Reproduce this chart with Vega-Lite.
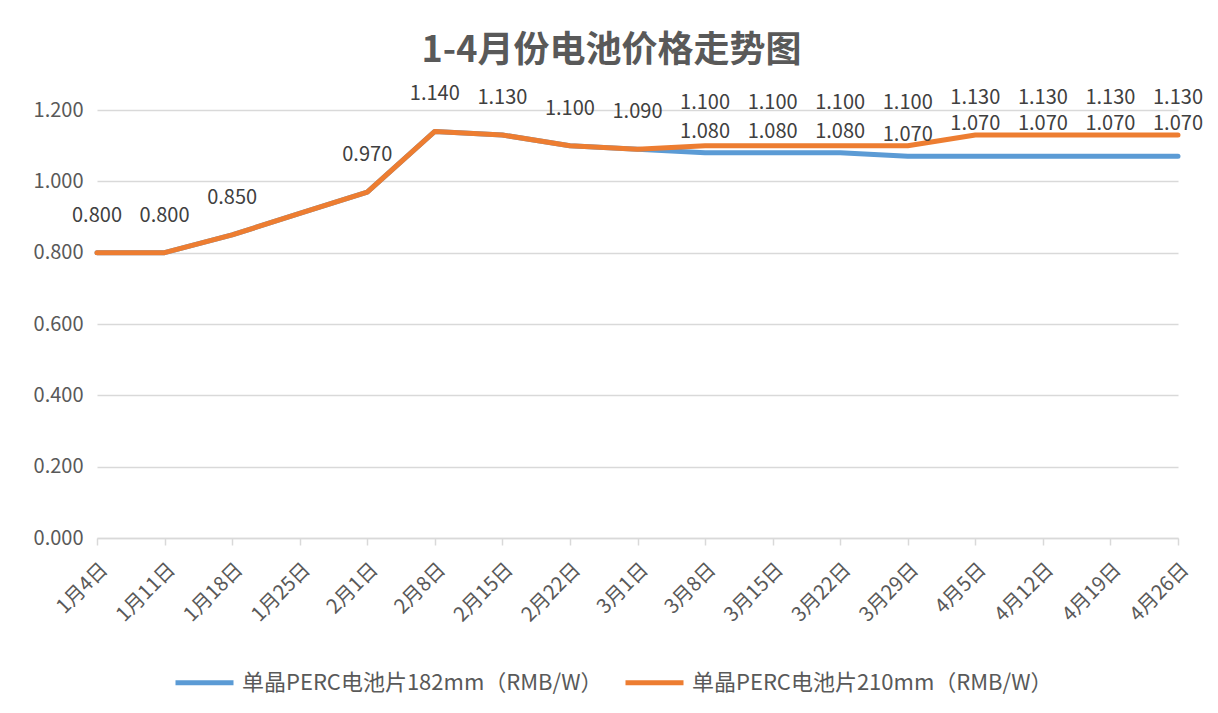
{
  "$schema": "https://vega.github.io/schema/vega-lite/v6.json",
  "autosize": "none",
  "width": 1081,
  "height": 428,
  "padding": {"left": 97, "top": 110, "right": 40, "bottom": 175},
  "background": "white",
  "title": {
    "text": "1-4月份电池价格走势图",
    "font": "Noto Sans CJK SC",
    "fontSize": 36,
    "fontWeight": "bold",
    "color": "#595959",
    "anchor": "middle",
    "frame": "group",
    "dx": -26,
    "offset": 14
  },
  "config": {
    "view": {"stroke": null},
    "font": "Noto Sans CJK SC"
  },
  "data": {
    "values": [
      {"date": "1月4日", "series": "单晶PERC电池片182mm（RMB/W）", "value": 0.800},
      {"date": "1月11日", "series": "单晶PERC电池片182mm（RMB/W）", "value": 0.800},
      {"date": "1月18日", "series": "单晶PERC电池片182mm（RMB/W）", "value": 0.850},
      {"date": "1月25日", "series": "单晶PERC电池片182mm（RMB/W）", "value": 0.910},
      {"date": "2月1日", "series": "单晶PERC电池片182mm（RMB/W）", "value": 0.970},
      {"date": "2月8日", "series": "单晶PERC电池片182mm（RMB/W）", "value": 1.140},
      {"date": "2月15日", "series": "单晶PERC电池片182mm（RMB/W）", "value": 1.130},
      {"date": "2月22日", "series": "单晶PERC电池片182mm（RMB/W）", "value": 1.100},
      {"date": "3月1日", "series": "单晶PERC电池片182mm（RMB/W）", "value": 1.090},
      {"date": "3月8日", "series": "单晶PERC电池片182mm（RMB/W）", "value": 1.080},
      {"date": "3月15日", "series": "单晶PERC电池片182mm（RMB/W）", "value": 1.080},
      {"date": "3月22日", "series": "单晶PERC电池片182mm（RMB/W）", "value": 1.080},
      {"date": "3月29日", "series": "单晶PERC电池片182mm（RMB/W）", "value": 1.070},
      {"date": "4月5日", "series": "单晶PERC电池片182mm（RMB/W）", "value": 1.070},
      {"date": "4月12日", "series": "单晶PERC电池片182mm（RMB/W）", "value": 1.070},
      {"date": "4月19日", "series": "单晶PERC电池片182mm（RMB/W）", "value": 1.070},
      {"date": "4月26日", "series": "单晶PERC电池片182mm（RMB/W）", "value": 1.070},
      {"date": "1月4日", "series": "单晶PERC电池片210mm（RMB/W）", "value": 0.800},
      {"date": "1月11日", "series": "单晶PERC电池片210mm（RMB/W）", "value": 0.800},
      {"date": "1月18日", "series": "单晶PERC电池片210mm（RMB/W）", "value": 0.850},
      {"date": "1月25日", "series": "单晶PERC电池片210mm（RMB/W）", "value": 0.910},
      {"date": "2月1日", "series": "单晶PERC电池片210mm（RMB/W）", "value": 0.970},
      {"date": "2月8日", "series": "单晶PERC电池片210mm（RMB/W）", "value": 1.140},
      {"date": "2月15日", "series": "单晶PERC电池片210mm（RMB/W）", "value": 1.130},
      {"date": "2月22日", "series": "单晶PERC电池片210mm（RMB/W）", "value": 1.100},
      {"date": "3月1日", "series": "单晶PERC电池片210mm（RMB/W）", "value": 1.090},
      {"date": "3月8日", "series": "单晶PERC电池片210mm（RMB/W）", "value": 1.100},
      {"date": "3月15日", "series": "单晶PERC电池片210mm（RMB/W）", "value": 1.100},
      {"date": "3月22日", "series": "单晶PERC电池片210mm（RMB/W）", "value": 1.100},
      {"date": "3月29日", "series": "单晶PERC电池片210mm（RMB/W）", "value": 1.100},
      {"date": "4月5日", "series": "单晶PERC电池片210mm（RMB/W）", "value": 1.130},
      {"date": "4月12日", "series": "单晶PERC电池片210mm（RMB/W）", "value": 1.130},
      {"date": "4月19日", "series": "单晶PERC电池片210mm（RMB/W）", "value": 1.130},
      {"date": "4月26日", "series": "单晶PERC电池片210mm（RMB/W）", "value": 1.130}
    ]
  },
  "encoding": {
    "x": {
      "field": "date",
      "type": "ordinal",
      "sort": null,
      "scale": {"type": "point", "padding": 0},
      "axis": {
        "title": null,
        "labelAngle": -45,
        "labelFontSize": 20,
        "labelColor": "#595959",
        "labelPadding": 14,
        "domainColor": "#D9D9D9",
        "domainWidth": 1.5,
        "tickColor": "#D9D9D9",
        "tickSize": 7,
        "tickWidth": 1.5,
        "grid": false
      }
    },
    "y": {
      "field": "value",
      "type": "quantitative",
      "scale": {"domain": [0, 1.2], "nice": false},
      "axis": {
        "title": null,
        "values": [0, 0.2, 0.4, 0.6, 0.8, 1.0, 1.2],
        "format": ".3f",
        "labelFontSize": 20,
        "labelColor": "#595959",
        "labelPadding": 14,
        "domain": false,
        "ticks": false,
        "gridColor": "#D9D9D9",
        "gridWidth": 1.5
      }
    }
  },
  "layer": [
    {
      "mark": {"type": "line", "strokeWidth": 5, "strokeJoin": "round", "strokeCap": "round"},
      "encoding": {
        "color": {
          "field": "series",
          "type": "nominal",
          "scale": {
            "domain": ["单晶PERC电池片182mm（RMB/W）", "单晶PERC电池片210mm（RMB/W）"],
            "range": ["#5B9BD5", "#ED7D31"]
          },
          "legend": {
            "title": null,
            "orient": "none",
            "direction": "horizontal",
            "legendX": 76,
            "legendY": 541,
            "symbolType": "stroke",
            "symbolSize": 3364,
            "symbolStrokeWidth": 5,
            "labelFontSize": 22,
            "labelColor": "#595959",
            "labelOffset": 6,
            "columnPadding": 12,
            "labelLimit": 500
          }
        }
      }
    },
    {
      "transform": [
        {"filter": "datum.series === '单晶PERC电池片210mm（RMB/W）' && indexof(['1月25日','3月8日','3月15日','3月22日','3月29日'], datum.date) < 0"}
      ],
      "mark": {"type": "text", "dy": -37, "fontSize": 20, "color": "#404040"},
      "encoding": {"text": {"field": "value", "type": "quantitative", "format": ".3f"}}
    },
    {
      "transform": [
        {"filter": "datum.series === '单晶PERC电池片210mm（RMB/W）' && indexof(['3月8日','3月15日','3月22日','3月29日'], datum.date) >= 0"}
      ],
      "mark": {"type": "text", "dy": -43, "fontSize": 20, "color": "#404040"},
      "encoding": {"text": {"field": "value", "type": "quantitative", "format": ".3f"}}
    },
    {
      "transform": [
        {"filter": "datum.series === '单晶PERC电池片182mm（RMB/W）' && indexof(['3月8日','3月15日','3月22日','3月29日'], datum.date) >= 0"}
      ],
      "mark": {"type": "text", "dy": -21, "fontSize": 20, "color": "#404040"},
      "encoding": {"text": {"field": "value", "type": "quantitative", "format": ".3f"}}
    },
    {
      "transform": [
        {"filter": "datum.series === '单晶PERC电池片182mm（RMB/W）' && indexof(['4月5日','4月12日','4月19日','4月26日'], datum.date) >= 0"}
      ],
      "mark": {"type": "text", "dy": -32, "fontSize": 20, "color": "#404040"},
      "encoding": {"text": {"field": "value", "type": "quantitative", "format": ".3f"}}
    }
  ]
}
